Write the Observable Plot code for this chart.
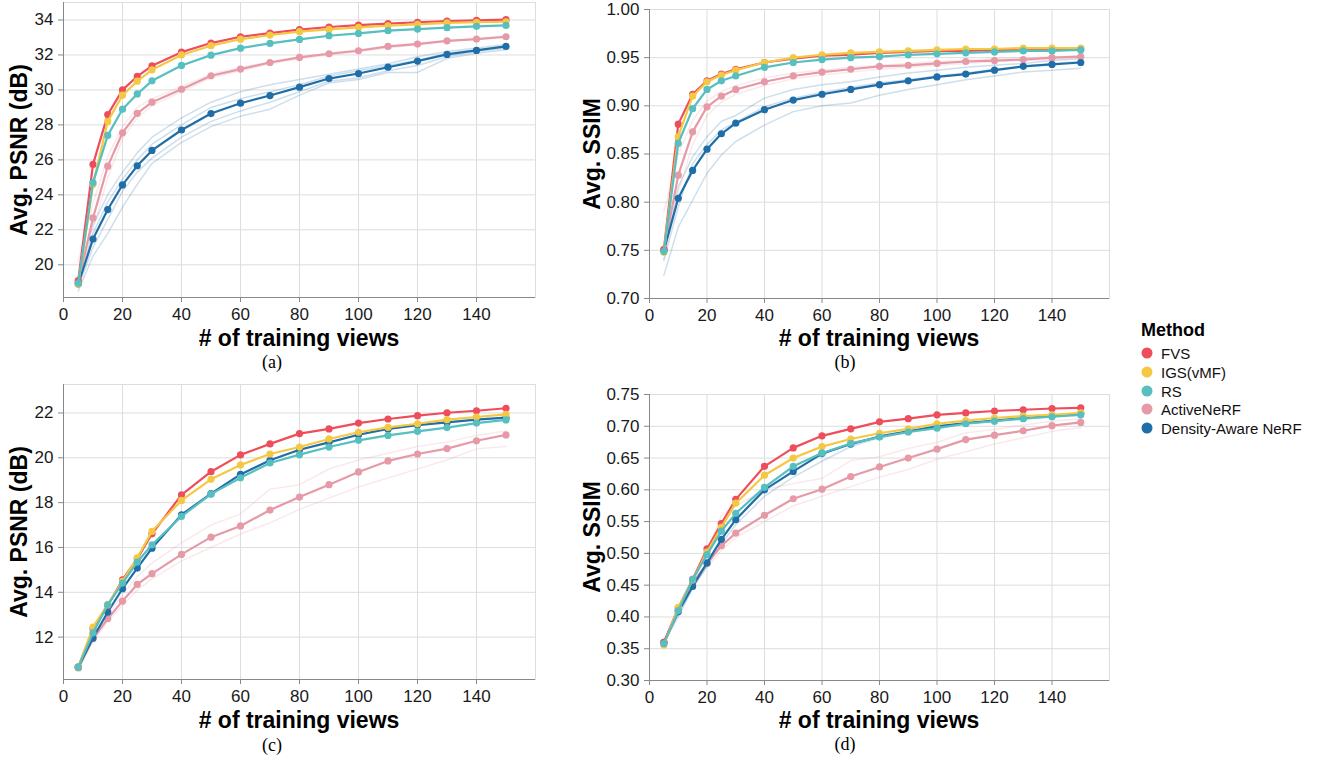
<!DOCTYPE html>
<html>
<head>
<meta charset="utf-8">
<script src="https://cdn.jsdelivr.net/npm/d3@7"></script>
<script src="https://cdn.jsdelivr.net/npm/@observablehq/plot@0.6"></script>
<style>
  html, body { margin: 0; padding: 0; background: #fff; }
  #root { position: relative; width: 1317px; height: 757px; overflow: hidden; font-family: "Liberation Sans", Arial, sans-serif; }
  .panel { position: absolute; }
  .t { position: absolute; white-space: nowrap; color: #000; line-height: 1; }
  .xt { font-weight: bold; font-size: 23px; transform: translate(-50%, -50%); }
  .yt { font-weight: bold; font-size: 23px; transform: translate(-50%, -50%) rotate(-90deg); }
  .cap { font-family: "Liberation Serif", "Times New Roman", serif; font-size: 18px; transform: translate(-50%, -50%); }
  .lg-title { font-weight: bold; font-size: 18px; transform: translateY(-50%); }
  .lg-item { font-size: 15px; transform: translateY(-50%); color: #111; }
  .dot { position: absolute; width: 11px; height: 11px; border-radius: 50%; transform: translate(-50%, -50%); }
</style>
</head>
<body>
<div id="root"></div>
<script>
// ---------- data ----------
const views = [5, 10, 15, 20, 25, 30, 40, 50, 60, 70, 80, 90, 100, 110, 120, 130, 140, 150];
const methods = ["FVS", "IGS(vMF)", "RS", "ActiveNeRF", "Density-Aware NeRF"];
const methodColors = ["#ee4e5b", "#f5c844", "#57bfbf", "#e69aa7", "#1f6ea7"];
const drawOrder = ["ActiveNeRF", "Density-Aware NeRF", "FVS", "IGS(vMF)", "RS"];

// (a) PSNR
const aFVS = [19.1, 25.74, 28.59, 30.0, 30.77, 31.38, 32.16, 32.68, 33.04, 33.25, 33.45, 33.6, 33.71, 33.79, 33.87, 33.94, 33.98, 34.02];
const aIGS = [18.9, 24.6, 28.2, 29.7, 30.5, 31.15, 32.0, 32.53, 32.9, 33.14, 33.33, 33.46, 33.58, 33.67, 33.75, 33.83, 33.87, 33.9];
const aRS = [18.95, 24.7, 27.4, 28.9, 29.77, 30.52, 31.4, 31.99, 32.39, 32.66, 32.89, 33.1, 33.23, 33.39, 33.48, 33.56, 33.64, 33.69];
const aActive = [19.0, 22.68, 25.64, 27.55, 28.66, 29.3, 30.04, 30.81, 31.19, 31.57, 31.86, 32.07, 32.24, 32.49, 32.62, 32.81, 32.91, 33.04];
const aDensity = [18.9, 21.47, 23.16, 24.57, 25.66, 26.54, 27.71, 28.65, 29.24, 29.68, 30.16, 30.65, 30.94, 31.3, 31.65, 32.03, 32.26, 32.49];
const aDensityRuns = [
  [19.3, 22.3, 24.0, 25.3, 26.4, 27.3, 28.4, 29.3, 29.9, 30.3, 30.6, 30.9, 31.2, 31.5, 31.9, 32.2, 32.4, 32.6],
  [19.0, 21.8, 23.6, 24.9, 26.0, 26.9, 28.0, 29.0, 29.5, 29.9, 30.3, 30.8, 31.1, 31.4, 31.7, 32.1, 32.3, 32.5],
  [18.7, 21.0, 22.6, 24.2, 25.3, 26.1, 27.3, 28.2, 28.8, 29.3, 29.9, 30.5, 30.7, 31.1, 31.4, 31.9, 32.2, 32.4],
  [18.5, 20.5, 21.8, 23.3, 24.6, 25.8, 27.0, 27.9, 28.5, 28.9, 29.7, 30.4, 30.6, 31.0, 31.0, 31.8, 32.1, 32.3]
];
const aActiveRuns = [
  [20.2, 23.5, 26.2, 27.9, 29.0, 29.5, 30.2, 30.9, 31.3, 31.6, 31.9, 32.1, 32.3, 32.5, 32.7, 32.8, 32.9, 33.1],
  [18.8, 22.0, 25.0, 27.2, 28.4, 29.1, 29.9, 30.7, 31.1, 31.5, 31.8, 32.0, 32.2, 32.4, 32.6, 32.8, 32.9, 33.0]
];

// (b) SSIM
const bFVS = [0.751, 0.881, 0.912, 0.926, 0.933, 0.938, 0.945, 0.949, 0.952, 0.953, 0.955, 0.956, 0.957, 0.957, 0.958, 0.958, 0.959, 0.959];
const bIGS = [0.748, 0.868, 0.910, 0.925, 0.932, 0.937, 0.945, 0.950, 0.953, 0.955, 0.956, 0.957, 0.958, 0.959, 0.959, 0.960, 0.960, 0.960];
const bRS = [0.749, 0.861, 0.897, 0.917, 0.926, 0.931, 0.940, 0.945, 0.948, 0.950, 0.951, 0.953, 0.954, 0.955, 0.956, 0.957, 0.957, 0.958];
const bActive = [0.750, 0.828, 0.873, 0.899, 0.910, 0.917, 0.925, 0.931, 0.935, 0.938, 0.941, 0.942, 0.944, 0.946, 0.947, 0.948, 0.950, 0.951];
const bDensity = [0.750, 0.804, 0.833, 0.855, 0.871, 0.882, 0.896, 0.906, 0.912, 0.917, 0.922, 0.926, 0.930, 0.933, 0.937, 0.941, 0.943, 0.945];
const bDensityRuns = [
  [0.724, 0.774, 0.802, 0.830, 0.849, 0.863, 0.880, 0.894, 0.900, 0.903, 0.911, 0.917, 0.922, 0.927, 0.931, 0.935, 0.937, 0.939],
  [0.745, 0.816, 0.847, 0.868, 0.884, 0.890, 0.908, 0.917, 0.922, 0.925, 0.930, 0.934, 0.937, 0.940, 0.942, 0.944, 0.947, 0.949],
  [0.740, 0.795, 0.840, 0.860, 0.875, 0.883, 0.899, 0.908, 0.914, 0.919, 0.924, 0.927, 0.931, 0.934, 0.938, 0.941, 0.944, 0.946]
];
const bActiveRuns = [
  [0.790, 0.850, 0.885, 0.905, 0.915, 0.921, 0.929, 0.934, 0.937, 0.940, 0.942, 0.944, 0.946, 0.947, 0.949, 0.950, 0.951, 0.952],
  [0.740, 0.810, 0.860, 0.890, 0.904, 0.912, 0.921, 0.928, 0.932, 0.935, 0.938, 0.940, 0.942, 0.944, 0.946, 0.947, 0.948, 0.950]
];

// (c) PSNR
const cFVS = [10.66, 12.37, 13.41, 14.56, 15.5, 16.61, 18.35, 19.38, 20.13, 20.62, 21.08, 21.29, 21.55, 21.73, 21.88, 22.01, 22.1, 22.21];
const cIGS = [10.66, 12.45, 13.46, 14.49, 15.54, 16.72, 18.1, 19.04, 19.68, 20.17, 20.48, 20.84, 21.14, 21.36, 21.52, 21.7, 21.82, 21.94];
const cRS = [10.66, 12.19, 13.44, 14.41, 15.35, 16.12, 17.39, 18.38, 19.11, 19.77, 20.14, 20.48, 20.78, 21.0, 21.18, 21.35, 21.55, 21.69];
const cActive = [10.63, 11.93, 12.82, 13.61, 14.35, 14.83, 15.69, 16.46, 16.96, 17.67, 18.25, 18.8, 19.37, 19.86, 20.17, 20.41, 20.76, 21.02];
const cDensity = [10.66, 11.96, 13.12, 14.16, 15.08, 15.97, 17.46, 18.4, 19.26, 19.89, 20.36, 20.69, 21.03, 21.29, 21.46, 21.58, 21.7, 21.79];
const cActiveRuns = [
  [10.6, 12.0, 13.0, 13.9, 14.7, 15.3, 16.2, 17.0, 17.5, 18.6, 18.8, 19.5, 19.9, 20.2, 20.5, 20.7, 21.0, 21.2],
  [10.5, 11.8, 12.7, 13.4, 14.1, 14.6, 15.4, 16.0, 16.6, 17.1, 17.7, 18.2, 18.7, 19.1, 19.5, 19.9, 20.4, 20.5]
];

// (d) SSIM
const dFVS = [0.360, 0.414, 0.459, 0.507, 0.547, 0.585, 0.637, 0.666, 0.685, 0.696, 0.707, 0.712, 0.718, 0.721, 0.724, 0.726, 0.728, 0.729];
const dIGS = [0.356, 0.415, 0.458, 0.502, 0.541, 0.579, 0.623, 0.650, 0.668, 0.680, 0.689, 0.696, 0.704, 0.709, 0.713, 0.716, 0.718, 0.721];
const dRS = [0.358, 0.410, 0.459, 0.498, 0.535, 0.563, 0.604, 0.637, 0.658, 0.673, 0.683, 0.691, 0.697, 0.704, 0.708, 0.712, 0.715, 0.718];
const dActive = [0.359, 0.410, 0.454, 0.484, 0.512, 0.532, 0.560, 0.586, 0.601, 0.621, 0.636, 0.650, 0.664, 0.679, 0.686, 0.693, 0.701, 0.706];
const dDensity = [0.360, 0.408, 0.448, 0.485, 0.522, 0.553, 0.600, 0.629, 0.657, 0.672, 0.684, 0.692, 0.700, 0.705, 0.709, 0.713, 0.716, 0.720];
const dActiveRuns = [
  [0.360, 0.415, 0.460, 0.500, 0.560, 0.575, 0.600, 0.610, 0.618, 0.646, 0.652, 0.665, 0.675, 0.690, 0.695, 0.702, 0.708, 0.712],
  [0.355, 0.405, 0.448, 0.478, 0.505, 0.525, 0.550, 0.575, 0.590, 0.605, 0.620, 0.632, 0.648, 0.660, 0.672, 0.682, 0.692, 0.698]
];
const dDensityRuns = [
  [0.360, 0.400, 0.445, 0.480, 0.515, 0.545, 0.590, 0.620, 0.645, 0.668, 0.682, 0.690, 0.699, 0.705, 0.709, 0.713, 0.716, 0.720]
];

// tick values
const xGridTicks = [0, 20, 40, 60, 80, 100, 120, 140, 160];
const xLabelTicks = [0, 20, 40, 60, 80, 100, 120, 140];
const psnrTicksA = [20, 22, 24, 26, 28, 30, 32, 34];
const ssimTicksB = [0.70, 0.75, 0.80, 0.85, 0.90, 0.95, 1.00];
const psnrTicksC = [12, 14, 16, 18, 20, 22];
const ssimTicksD = [0.30, 0.35, 0.40, 0.45, 0.50, 0.55, 0.60, 0.65, 0.70, 0.75];

// ---------- helpers ----------
const colorOf = m => methodColors[methods.indexOf(m)];
function tidy(seriesList) {
  const rows = [];
  for (const [m, vals] of seriesList) vals.forEach((v, i) => rows.push({method: m, x: views[i], y: v}));
  return rows;
}
function tidyRuns(m, runs) {
  const rows = [];
  runs.forEach((vals, r) => vals.forEach((v, i) => rows.push({method: m, run: m + r, x: views[i], y: v})));
  return rows;
}

function panel(cfg) {
  const means = tidy(cfg.series);
  const runs = cfg.runs.flatMap(([m, rs]) => tidyRuns(m, rs));
  const ordered = drawOrder.map(m => means.filter(d => d.method === m));
  const marks = [
    Plot.gridX(xGridTicks, {stroke: "#dddddd", strokeOpacity: 1}),
    Plot.gridY(cfg.yTicks, {stroke: "#dddddd", strokeOpacity: 1}),
    Plot.frame({stroke: "#dddddd"}),
    Plot.line(runs, {x: "x", y: "y", z: "run", stroke: d => colorOf(d.method), strokeWidth: 1.5, strokeOpacity: 0.22}),
  ];
  for (const grp of ordered) {
    marks.push(Plot.line(grp, {x: "x", y: "y", stroke: d => colorOf(d.method), strokeWidth: 2.2}));
    marks.push(Plot.dot(grp, {x: "x", y: "y", fill: d => colorOf(d.method), r: 3.6}));
  }
  marks.push(
    Plot.ruleX([0], {stroke: "#888888"}),
    Plot.ruleY([cfg.yDomain[0]], {stroke: "#888888"}),
    Plot.axisX(xLabelTicks, {tickSize: 5, tickPadding: 5, stroke: "#888888", fill: "#1a1a1a", fontSize: 17, label: null}),
    Plot.axisY(cfg.yTicks, {tickSize: 5, tickPadding: 5, stroke: "#888888", fill: "#1a1a1a", fontSize: 17, label: null, tickFormat: cfg.fmt})
  );
  const svg = Plot.plot({
    width: cfg.width, height: cfg.height,
    marginLeft: cfg.ml, marginRight: cfg.mr, marginTop: cfg.mt, marginBottom: cfg.mb,
    x: {domain: [0, 160], axis: null},
    y: {domain: cfg.yDomain, axis: null},
    style: {fontFamily: '"Liberation Sans", Arial, sans-serif', fontSize: "17px", background: "transparent", overflow: "visible"},
    marks
  });
  svg.classList.add("panel");
  svg.style.left = cfg.left + "px";
  svg.style.top = cfg.top + "px";
  return svg;
}

const root = document.getElementById("root");
const f2 = d3.format(".2f");
const f0 = d3.format("d");

root.appendChild(panel({
  left: 0, top: 0, width: 540, height: 330, ml: 63, mr: 5, mt: 2, mb: 33,
  yDomain: [18.13, 35.0], yTicks: psnrTicksA, fmt: f0,
  series: [["FVS", aFVS], ["IGS(vMF)", aIGS], ["RS", aRS], ["ActiveNeRF", aActive], ["Density-Aware NeRF", aDensity]],
  runs: [["Density-Aware NeRF", aDensityRuns], ["ActiveNeRF", aActiveRuns]]
}));
root.appendChild(panel({
  left: 570, top: 0, width: 544, height: 331, ml: 79, mr: 5, mt: 9, mb: 33,
  yDomain: [0.70, 1.00], yTicks: ssimTicksB, fmt: f2,
  series: [["FVS", bFVS], ["IGS(vMF)", bIGS], ["RS", bRS], ["ActiveNeRF", bActive], ["Density-Aware NeRF", bDensity]],
  runs: [["Density-Aware NeRF", bDensityRuns], ["ActiveNeRF", bActiveRuns]]
}));
root.appendChild(panel({
  left: 0, top: 370, width: 540, height: 342, ml: 63, mr: 5, mt: 14, mb: 33,
  yDomain: [10.11, 23.27], yTicks: psnrTicksC, fmt: f0,
  series: [["FVS", cFVS], ["IGS(vMF)", cIGS], ["RS", cRS], ["ActiveNeRF", cActive], ["Density-Aware NeRF", cDensity]],
  runs: [["ActiveNeRF", cActiveRuns]]
}));
root.appendChild(panel({
  left: 570, top: 370, width: 544, height: 343, ml: 79, mr: 5, mt: 24, mb: 33,
  yDomain: [0.30, 0.75], yTicks: ssimTicksD, fmt: f2,
  series: [["FVS", dFVS], ["IGS(vMF)", dIGS], ["RS", dRS], ["ActiveNeRF", dActive], ["Density-Aware NeRF", dDensity]],
  runs: [["ActiveNeRF", dActiveRuns], ["Density-Aware NeRF", dDensityRuns]]
}));

// ---------- text ----------
function addText(cls, text, x, y) {
  const el = document.createElement("div");
  el.className = "t " + cls;
  el.textContent = text;
  el.style.left = x + "px";
  el.style.top = y + "px";
  root.appendChild(el);
}
addText("xt", "# of training views", 299, 338);
addText("xt", "# of training views", 879, 338);
addText("xt", "# of training views", 299, 720);
addText("xt", "# of training views", 879, 720);
addText("yt", "Avg. PSNR (dB)", 19, 150);
addText("yt", "Avg. SSIM", 592, 154);
addText("yt", "Avg. PSNR (dB)", 19, 532);
addText("yt", "Avg. SSIM", 592, 537);
addText("cap", "(a)", 272, 362);
addText("cap", "(b)", 845, 362);
addText("cap", "(c)", 272, 745);
addText("cap", "(d)", 845, 744);

// legend
addText("lg-title", "Method", 1141, 330);
const legendY = [353, 372, 390.5, 409, 428];
methods.forEach((m, i) => {
  const d = document.createElement("div");
  d.className = "dot";
  d.style.left = "1147px";
  d.style.top = legendY[i] + "px";
  d.style.background = methodColors[i];
  root.appendChild(d);
  addText("lg-item", m, 1161, legendY[i]);
});
</script>
</body>
</html>
